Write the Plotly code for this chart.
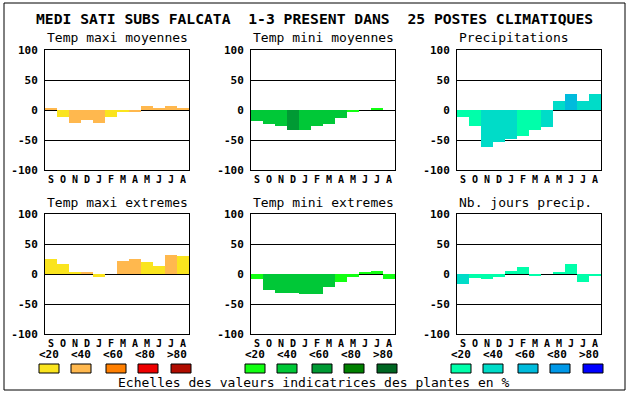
import plotly.graph_objects as go

W, H = 630, 394

months = ["S", "O", "N", "D", "J", "F", "M", "A", "M", "J", "J", "A"]
ytick_vals = [-100, -50, 0, 50, 100]
ytick_text = ["-100", "-50", "0", "50", "100"]
legend_labels = ["<20", "<40", "<60", "<80", ">80"]
main_title = "MEDI SATI SUBS FALCATA  1-3 PRESENT DANS  25 POSTES CLIMATIQUES"
footer = "Echelles des valeurs indicatrices des plantes en %"

# colour scales (class 0..4 = <20, <40, <60, <80, >80)
warm_scale = ["#fae41e", "#ffb84e", "#ff7f00", "#ee0000", "#b00c00"]
green_scale = ["#12ff12", "#00c837", "#009a34", "#008000", "#006622"]
blue_scale = ["#00ffaa", "#00dcc8", "#00bbdc", "#0098e8", "#0000ff"]

# panel values (deviation, %) and indicator class per month
tmax_moy = [2, -11, -21, -16, -21, -11, -4, -4, 6, 2, 6, 4]
tmax_moy_cls = [1, 0, 1, 1, 1, 0, 0, 1, 1, 1, 1, 1]
tmin_moy = [-18, -23, -26, -33, -33, -26, -23, -14, -4, 0, 3, 0]
tmin_moy_cls = [1, 1, 1, 2, 1, 1, 1, 1, 0, 0, 0, 0]
precip = [-11, -26, -61, -53, -49, -43, -34, -28, 15, 27, 15, 27]
precip_cls = [0, 0, 1, 1, 1, 0, 0, 1, 1, 2, 1, 1]
tmax_ext = [25, 17, 4, 2, -5, 0, 22, 25, 20, 13, 32, 30]
tmax_ext_cls = [0, 0, 0, 1, 0, 0, 1, 1, 0, 0, 1, 0]
tmin_ext = [-8, -26, -31, -31, -33, -34, -22, -13, -5, 2, 5, -8]
tmin_ext_cls = [0, 1, 1, 1, 1, 1, 1, 0, 0, 0, 0, 0]
nb_jours = [-16, -7, -8, -5, 5, 12, -3, 0, 2, 17, -14, -3]
nb_jours_cls = [1, 0, 0, 0, 0, 0, 0, 0, 0, 0, 0, 0]

panels = [
    ("Temp maxi moyennes", tmax_moy, tmax_moy_cls, warm_scale),
    ("Temp mini moyennes", tmin_moy, tmin_moy_cls, green_scale),
    ("Precipitations", precip, precip_cls, blue_scale),
    ("Temp maxi extremes", tmax_ext, tmax_ext_cls, warm_scale),
    ("Temp mini extremes", tmin_ext, tmin_ext_cls, green_scale),
    ("Nb. jours precip.", nb_jours, nb_jours_cls, blue_scale),
]

lefts = [45, 251, 457]
tops = [50, 214]
PW, PH = 144, 120
MONO = "DejaVu Sans Mono"


def px(x):
    return x / W


def py(y):
    return 1 - y / H


fig = go.Figure()
annotations = []
shapes = []

for i, (title, vals, cls, scale) in enumerate(panels):
    r, c = divmod(i, 3)
    n = i + 1
    xa = "x" if n == 1 else f"x{n}"
    ya = "y" if n == 1 else f"y{n}"
    fig.add_trace(go.Bar(
        x=list(range(len(months))), y=vals,
        marker=dict(color=[scale[k] for k in cls], line=dict(width=0)),
        xaxis=xa, yaxis=ya, showlegend=False, hoverinfo="y",
    ))
    L, T = lefts[c], tops[r]
    fig.update_layout(**{
        ("xaxis" if n == 1 else f"xaxis{n}"): dict(
            domain=[px(L), px(L + PW)], anchor=ya, range=[-0.5, 11.5],
            tickvals=list(range(12)), ticktext=months, ticks="",
            ticklabelstandoff=0, automargin=False,
            tickfont=dict(family=MONO, size=10, color="black", weight="bold"),
            showgrid=False, zeroline=False, showline=True, mirror=True,
            linecolor="black", linewidth=1, fixedrange=True,
        ),
        ("yaxis" if n == 1 else f"yaxis{n}"): dict(
            domain=[py(T + PH), py(T)], anchor=xa, range=[-100, 100],
            tickvals=ytick_vals, ticktext=ytick_text, ticks="",
            ticklabelstandoff=4, automargin=False,
            tickfont=dict(family=MONO, size=11, color="black", weight="bold"),
            showgrid=True, gridcolor="black", gridwidth=1,
            zeroline=True, zerolinecolor="black", zerolinewidth=1,
            showline=True, mirror=True, linecolor="black", linewidth=1,
            fixedrange=True,
        ),
    })
    annotations.append(dict(
        text=title, xref="paper", yref="paper", x=px(L), y=py(T - 12),
        xanchor="left", yanchor="middle", showarrow=False,
        font=dict(family=MONO, size=13, color="black"),
    ))

# legend boxes + labels under the second row
box_off = [0, 32, 67, 99, 132]
lab_off = [0, 32, 64, 96, 128]
for c, scale in enumerate([warm_scale, green_scale, blue_scale]):
    g = lefts[c] - 6
    for k in range(5):
        x0 = g + box_off[k]
        shapes.append(dict(
            type="rect", xref="paper", yref="paper",
            x0=px(x0), x1=px(x0 + 20), y0=py(373), y1=py(364),
            fillcolor=scale[k], line=dict(color="black", width=1),
        ))
        annotations.append(dict(
            text=legend_labels[k], xref="paper", yref="paper",
            x=px(g + lab_off[k] + 10), y=py(354), xanchor="center",
            yanchor="middle", showarrow=False,
            font=dict(family=MONO, size=11, color="black", weight="bold"),
        ))

annotations.append(dict(
    text=main_title, xref="paper", yref="paper", x=px(314), y=py(18),
    xanchor="center", yanchor="middle", showarrow=False,
    font=dict(family=MONO, size=14.7, color="black", weight="bold"),
))
annotations.append(dict(
    text=footer, xref="paper", yref="paper", x=px(314), y=py(382),
    xanchor="center", yanchor="middle", showarrow=False,
    font=dict(family=MONO, size=13, color="black"),
))

shapes.append(dict(
    type="rect", xref="paper", yref="paper",
    x0=px(4), x1=px(625), y0=py(390), y1=py(3),
    line=dict(color="black", width=1), fillcolor="rgba(0,0,0,0)",
))

fig.update_layout(
    width=W, height=H, autosize=False, margin=dict(l=0, r=0, t=0, b=0, pad=0),
    paper_bgcolor="white", plot_bgcolor="white",
    bargap=0, annotations=annotations, shapes=shapes,
    font=dict(family=MONO, color="black"),
)

fig.write_html(
    "out.html",
    config={"displayModeBar": False, "responsive": False},
    post_script="document.body.style.margin='0';document.body.style.overflow='hidden';",
)
